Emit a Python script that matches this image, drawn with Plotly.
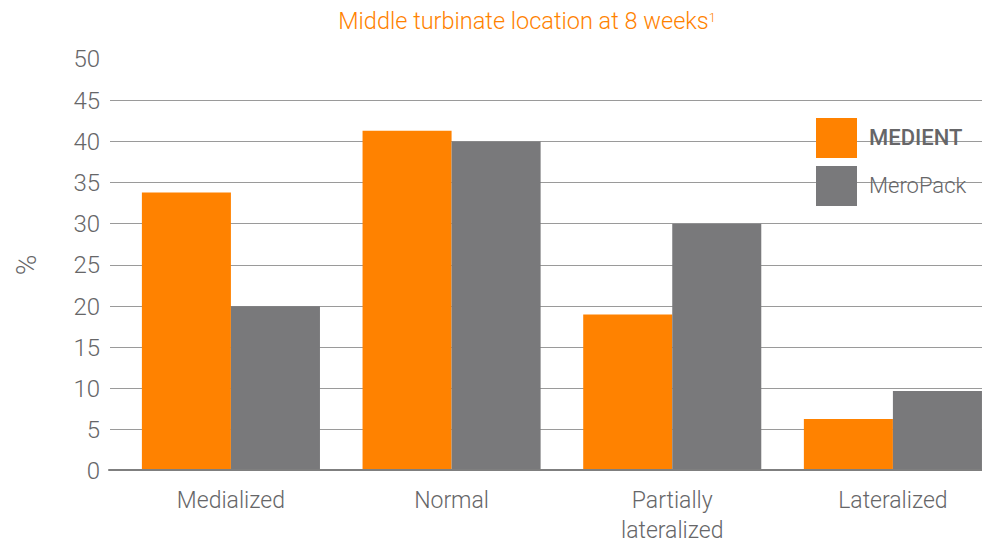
import plotly.graph_objects as go

categories = ["Medialized", "Normal", "Partially<br>lateralized", "Lateralized"]
medient = [33.8, 41.3, 19.0, 6.3]
meropack = [20.0, 40.0, 30.0, 9.7]
series_names = ["MEDIENT", "MeroPack"]
y_ticks = [0, 5, 10, 15, 20, 25, 30, 35, 40, 45, 50]

ORANGE = "#FF8200"
GRAY = "#79797B"
TEXT = "#666668"
FONT = "Roboto"

# page body has an 8px margin; compensate so the plot lands where the reference has it
OFF = 8
W, H = 990 - OFF, 548 - OFF
L, T, B = 110 - OFF, 59 - OFF, 77

fig = go.Figure()
fig.add_trace(go.Bar(x=categories, y=medient, name=series_names[0],
                     marker=dict(color=ORANGE, line=dict(width=0))))
fig.add_trace(go.Bar(x=categories, y=meropack, name=series_names[1],
                     marker=dict(color=GRAY, line=dict(width=0))))

fig.update_layout(
    width=W, height=H,
    margin=dict(l=L, r=0, t=T, b=B, autoexpand=False),
    paper_bgcolor="white", plot_bgcolor="white",
    barmode="group", bargap=0.193, bargroupgap=0,
    showlegend=False,
    font=dict(family=FONT, color=TEXT, size=23, weight=300),
    title=dict(text="Middle turbinate location at 8 weeks<span style='font-size:18px'><sup>1</sup></span>",
               x=(527 - OFF) / W, xanchor="center", y=1 - (21 - OFF) / H, yanchor="middle",
               font=dict(family=FONT, size=23.5, color=ORANGE, weight=300)),
    xaxis=dict(range=[-0.548, 3.44], showgrid=False, showline=False,
               ticks="", tickfont=dict(size=23, color=TEXT, weight=300), zeroline=False,
               ticklabelstandoff=13),
    yaxis=dict(range=[0, 50], tickvals=y_ticks, showgrid=True,
               gridcolor="#9a9a9a", gridwidth=1, zeroline=False,
               ticks="", ticklabelstandoff=9,
               tickfont=dict(size=24, color=TEXT, weight=300),
               title=dict(text="%", font=dict(size=28, color=TEXT, weight=300), standoff=28)),
)

# baseline
fig.add_shape(type="line", xref="paper", yref="y", x0=-0.002, x1=1, y0=0, y1=0,
              line=dict(color="#7f7f7f", width=4), layer="above")

# legend (custom, large swatches)
plot_w = 880
plot_h = 412
legend_items = [(series_names[0], ORANGE, 118, True), (series_names[1], GRAY, 166, False)]
for name, color, top, bold in legend_items:
    fig.add_shape(type="rect", xref="paper", yref="paper",
                  x0=(816 - 110) / plot_w, x1=(857 - 110) / plot_w,
                  y0=(471 - (top + 40)) / plot_h, y1=(471 - top) / plot_h,
                  fillcolor=color, line=dict(width=0), layer="above")
    fig.add_annotation(xref="paper", yref="paper", x=(867 - 110) / plot_w,
                       y=(471 - (top + 19)) / plot_h, xanchor="left", yanchor="middle",
                       text=name, showarrow=False,
                       font=dict(family=FONT, size=22, color=TEXT,
                                 weight=500 if bold else 300))

fig.write_html("out.html")
